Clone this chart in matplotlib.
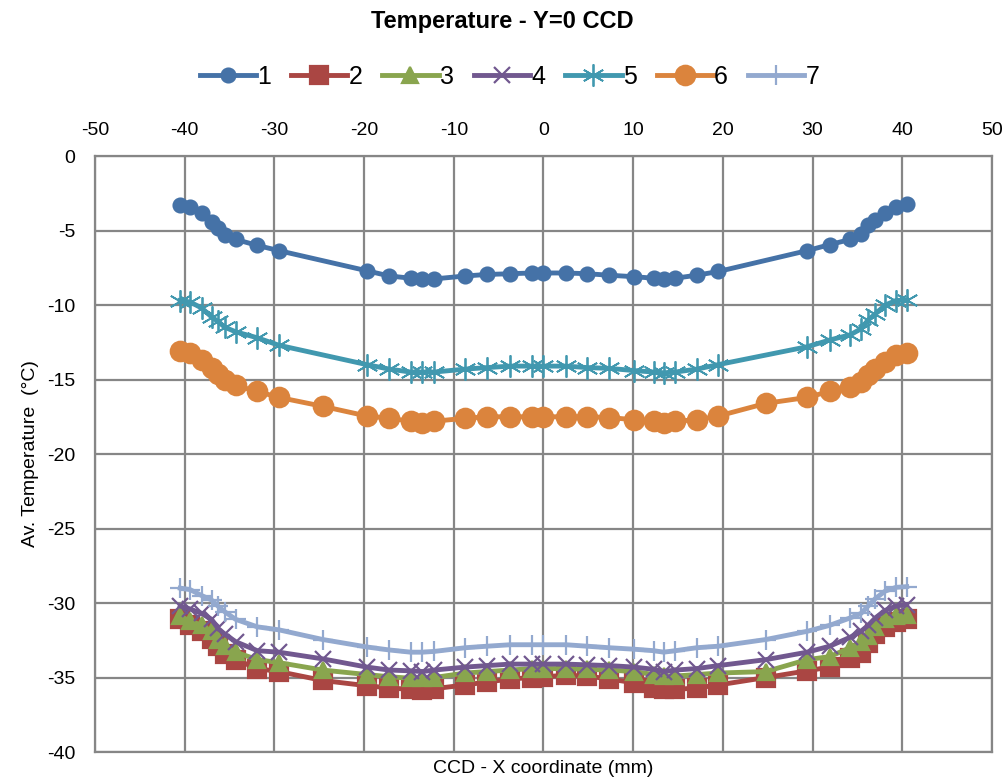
import numpy as np
import matplotlib
matplotlib.use("Agg")
import matplotlib.pyplot as plt

plt.rcParams["font.family"] = ["Liberation Sans", "DejaVu Sans"]
plt.rcParams["axes.unicode_minus"] = False

# x positions (mm) shared by all series
x_mm = [-40.5, -39.4, -38.1, -37.0, -36.3, -35.5, -34.3, -31.9, -29.5, -24.6,
        -19.7, -17.2, -14.8, -13.5, -12.2, -8.7, -6.3, -3.7, -1.3, 0.0,
        2.5, 4.9, 7.3, 10.1, 12.3, 13.4, 14.7, 17.1, 19.5, 24.8,
        29.4, 31.9, 34.2, 35.4, 36.2, 37.0, 38.1, 39.3, 40.5]

nan = float("nan")

# average temperatures (degC), NaN where the series has no point
temp_1 = [-3.3, -3.4, -3.85, -4.4, -4.85, -5.3, -5.6, -6.0, -6.35, nan,
          -7.7, -8.05, -8.2, -8.25, -8.25, -8.05, -7.95, -7.9, -7.85, -7.85,
          -7.85, -7.9, -8.0, -8.1, -8.2, -8.25, -8.2, -8.0, -7.75, nan,
          -6.35, -5.95, -5.6, -5.25, -4.65, -4.3, -3.85, -3.4, -3.25]
temp_2 = [-31.1, -31.5, -31.9, -32.4, -32.9, -33.4, -33.8, -34.4, -34.6, -35.2,
          -35.55, -35.7, -35.8, -35.85, -35.75, -35.5, -35.3, -35.1, -35.0, -34.95,
          -34.85, -34.9, -35.1, -35.35, -35.7, -35.8, -35.8, -35.7, -35.5, -35.0,
          -34.55, -34.3, -33.7, -33.35, -32.7, -32.1, -31.6, -31.3, -31.05]
temp_3 = [-30.9, -31.2, -31.5, -31.9, -32.5, -32.9, -33.3, -33.8, -34.0, -34.5,
          -34.8, -34.95, -35.05, -35.05, -35.0, -34.7, -34.6, -34.5, -34.4, -34.4,
          -34.4, -34.45, -34.5, -34.6, -34.8, -34.9, -34.9, -34.8, -34.7, -34.6,
          -33.8, -33.6, -33.0, -32.6, -32.2, -31.6, -31.1, -30.9, -30.8]
temp_4 = [-30.2, -30.4, -30.7, -31.1, -31.7, -32.1, -32.6, -33.2, -33.3, -33.75,
          -34.3, -34.5, -34.55, -34.6, -34.5, -34.3, -34.2, -34.1, -34.1, -34.1,
          -34.1, -34.15, -34.2, -34.3, -34.45, -34.6, -34.5, -34.4, -34.2, -33.8,
          -33.3, -32.9, -32.3, -31.9, -31.5, -31.0, -30.5, -30.2, -30.1]
temp_5 = [-9.7, -9.8, -10.2, -10.8, -11.1, -11.5, -11.8, -12.2, -12.7, nan,
          -14.0, -14.3, -14.5, -14.5, -14.5, -14.3, -14.2, -14.1, -14.1, -14.1,
          -14.1, -14.2, -14.25, -14.4, -14.5, -14.55, -14.5, -14.3, -14.0, nan,
          -12.8, -12.35, -12.0, -11.6, -11.0, -10.6, -10.0, -9.7, -9.65]
temp_6 = [-13.1, -13.2, -13.7, -14.2, -14.6, -15.0, -15.4, -15.8, -16.2, -16.8,
          -17.45, -17.6, -17.8, -17.9, -17.8, -17.6, -17.5, -17.5, -17.5, -17.5,
          -17.5, -17.5, -17.55, -17.7, -17.8, -17.9, -17.8, -17.7, -17.45, -16.6,
          -16.2, -15.8, -15.5, -15.15, -14.7, -14.3, -13.8, -13.35, -13.2]
temp_7 = [-29.0, -29.1, -29.5, -29.8, -30.2, -30.6, -31.1, -31.6, -31.8, -32.45,
          -32.95, -33.15, -33.3, -33.3, -33.25, -33.0, -32.9, -32.8, -32.8, -32.8,
          -32.8, -32.9, -33.0, -33.1, -33.2, -33.3, -33.2, -33.0, -32.9, -32.45,
          -31.9, -31.5, -31.0, -30.7, -30.2, -29.7, -29.2, -28.95, -28.9]

series_labels = ["1", "2", "3", "4", "5", "6", "7"]
series_values = [temp_1, temp_2, temp_3, temp_4, temp_5, temp_6, temp_7]

colors = ["#4572A7", "#AA4643", "#89A54E", "#71588F", "#4198AF", "#DB843D", "#93A9CF"]
markers = ["o", "s", "^", "x", (6, 2, 0), "o", "+"]
msizes = [10, 13, 12, 12, 16, 14, 14]
medges = [1.6, 1.6, 1.6, 1.6, 1.3, 1.6, 1.6]

fig = plt.figure(figsize=(10.05, 7.84), dpi=100)
ax = fig.add_axes([0.0945, 0.0408, 0.8925, 0.7602])

x_arr = np.array(x_mm)
for lab, vals, col, mk, ms, mw in zip(series_labels, series_values, colors,
                                      markers, msizes, medges):
    v = np.array(vals)
    ok = ~np.isnan(v)
    ax.plot(x_arr[ok], v[ok], color=col, lw=3.5, marker=mk, ms=ms,
            mec=col, mfc=col, mew=mw, label=lab)

ax.set_xlim(-50, 50)
ax.set_ylim(-40, 0)
ax.set_xticks(np.arange(-50, 51, 10))
ax.set_yticks(np.arange(-40, 1, 5))
ax.xaxis.tick_top()
ax.tick_params(axis="x", labelsize=14, length=0, pad=12)
ax.tick_params(axis="y", labelsize=14, length=0, pad=14)
ax.grid(True, color="#868686", lw=1.6)
for sp in ax.spines.values():
    sp.set_color("#868686")
    sp.set_linewidth(1.6)

ax.set_xlabel("CCD - X coordinate (mm)", fontsize=14, labelpad=6)
ax.set_ylabel("Av. Temperature  (\u00b0C)", fontsize=14, labelpad=6)

fig.text(0.5, 0.972, "Temperature - Y=0 CCD", ha="center", va="center",
         fontsize=17, fontweight="bold")
fig.legend(loc="center", bbox_to_anchor=(0.507, 0.902), ncol=7, frameon=False,
           fontsize=18, handlelength=2.25, handletextpad=0.05, columnspacing=0.8)

fig.savefig("out.png", dpi=100)
